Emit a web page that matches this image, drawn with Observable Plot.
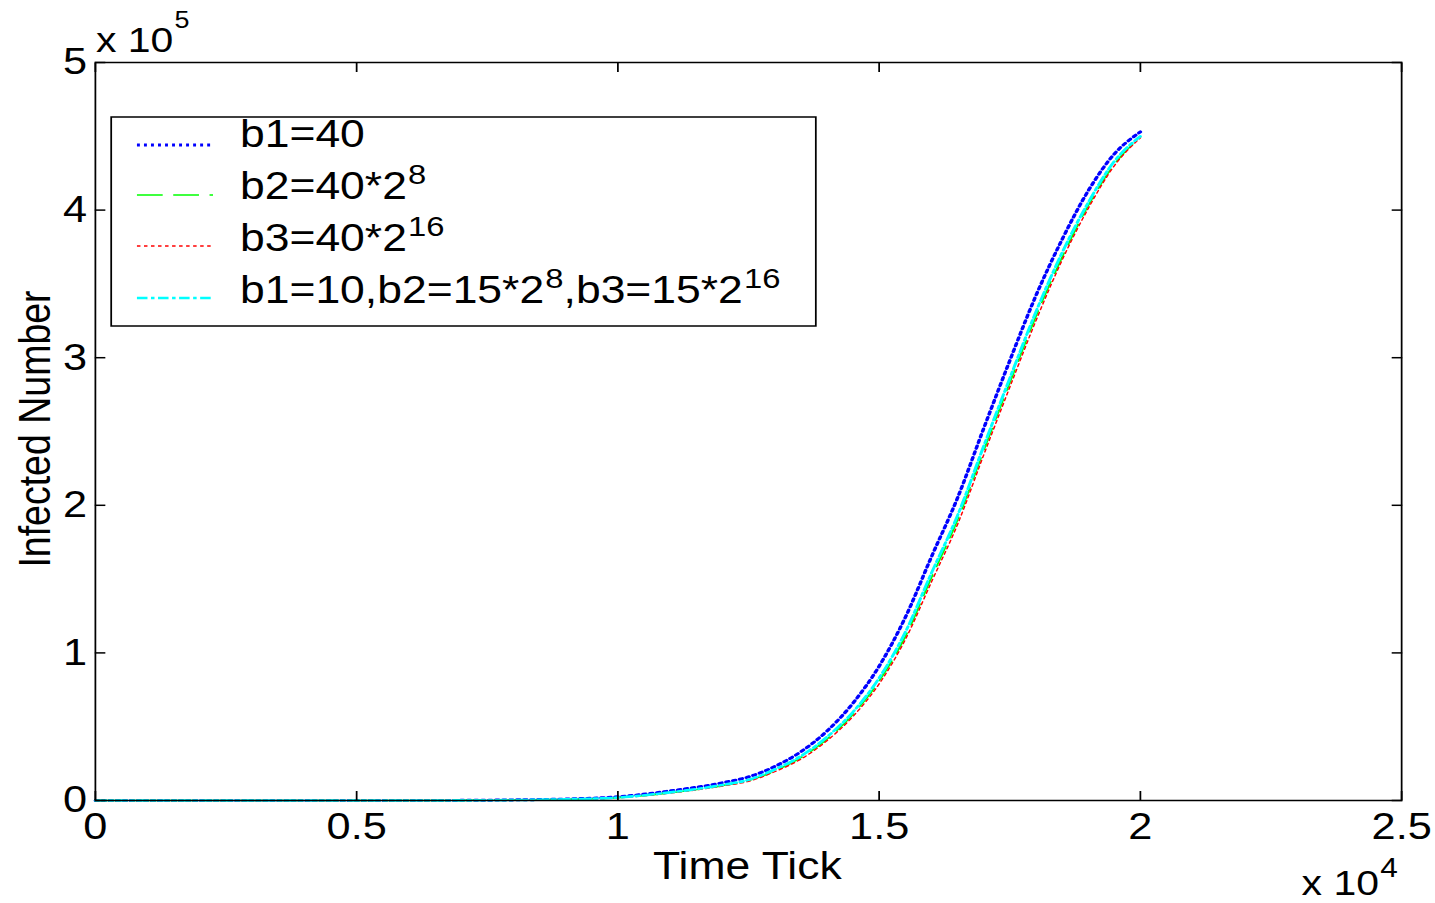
<!DOCTYPE html>
<html>
<head>
<meta charset="utf-8">
<script src="https://cdn.jsdelivr.net/npm/d3@7"></script>
<script src="https://cdn.jsdelivr.net/npm/@observablehq/plot@0.6"></script>
<style>
  html, body { margin: 0; padding: 0; background: #fff; }
  #chart { width: 1435px; height: 903px; overflow: hidden; }
  svg { display: block; }
</style>
</head>
<body>
<div id="chart"></div>
<script>
// ---- data ----
const timeTicks = [0, 2000, 4000, 6000, 8000, 9000, 10000, 11000, 12000, 12500, 13000, 13500, 14000, 14500, 15000, 15500, 16000, 16500, 17000, 17500, 18000, 18500, 19000, 19500, 20000];
const seriesB1 = [0, 0, 0, 0, 400, 1000, 2500, 6500, 12000, 16000, 23000, 33000, 47000, 66000, 91000, 124000, 165000, 205000, 252000, 298000, 342000, 380000, 413000, 438000, 453000];
const seriesB2 = [0, 0, 0, 0, 250, 750, 1900, 5200, 10100, 13500, 20000, 29000, 41500, 58500, 81000, 111000, 151000, 190000, 237000, 283000, 328000, 368000, 403000, 431000, 449500];
const seriesB3 = [0, 0, 0, 0, 200, 700, 1800, 5000, 9800, 13000, 19500, 28000, 40500, 57000, 79000, 109000, 148000, 187000, 234000, 280000, 325000, 366000, 401000, 430000, 449000];
const seriesMix = [0, 0, 0, 0, 300, 800, 2000, 5500, 10500, 14000, 21000, 30000, 43000, 60000, 83000, 114000, 154000, 193000, 240000, 286000, 331000, 371000, 405000, 433000, 450000];

const xTicks = [0, 5000, 10000, 15000, 20000, 25000];
const xTickLabels = ["0", "0.5", "1", "1.5", "2", "2.5"];
const yTicks = [0, 100000, 200000, 300000, 400000, 500000];
const yTickLabels = ["0", "1", "2", "3", "4", "5"];

const seriesNames = ["b1=40", "b2=40*2^8", "b3=40*2^16", "b1=10,b2=15*2^8,b3=15*2^16"];
const seriesColors = ["#0000ff", "#00ff00", "#ff0000", "#00ffff"];

// build a long table
const table = [];
[seriesB1, seriesB2, seriesB3, seriesMix].forEach((vals, s) => {
  vals.forEach((v, i) => table.push({t: timeTicks[i], n: v, s: seriesNames[s]}));
});

// ---- layout (drawn narrower, then stretched horizontally like the reference) ----
const STRETCH = 1.17;
const W = Math.round(1435 / STRETCH);
const H = 903;

const styles = [
  {stroke: seriesColors[0], strokeWidth: 3, strokeDasharray: "2.5,3.5"},
  {stroke: seriesColors[1], strokeWidth: 1.6, strokeDasharray: "22,9"},
  {stroke: seriesColors[2], strokeWidth: 1.3, strokeDasharray: "3,3"},
  {stroke: seriesColors[3], strokeWidth: 2.6, strokeDasharray: "9,3,3,3"}
];

const lineMarks = seriesNames.map((name, k) =>
  Plot.line(table.filter(d => d.s === name), {x: "t", y: "n", curve: "monotone-x", ...styles[k]})
);

const chart = Plot.plot({
  width: W,
  height: H,
  marginLeft: 81,
  marginRight: 29,
  marginTop: 62,
  marginBottom: 103,
  style: {fontFamily: "'Liberation Sans', Arial, sans-serif", background: "#fff", color: "#000"},
  x: {domain: [0, 25000]},
  y: {domain: [0, 500000]},
  marks: [
    ...lineMarks,
    Plot.frame({stroke: "#000", strokeWidth: 1.5}),
    Plot.axisX(xTicks, {anchor: "bottom", tickSize: 0, tickPadding: 12, fontSize: 37, tickFormat: (d, i) => xTickLabels[i], label: null}),
    Plot.axisX(xTicks, {anchor: "bottom", tickSize: -9, tickFormat: () => "", label: null, strokeWidth: 1.5}),
    Plot.axisX(xTicks, {anchor: "top", tickSize: -9, tickFormat: () => "", label: null, strokeWidth: 1.5}),
    Plot.axisY(yTicks, {anchor: "left", tickSize: 0, tickPadding: 7, fontSize: 37, tickFormat: (d, i) => yTickLabels[i], label: null}),
    Plot.axisY(yTicks, {anchor: "left", tickSize: -9, tickFormat: () => "", label: null, strokeWidth: 1.5}),
    Plot.axisY(yTicks, {anchor: "right", tickSize: -9, tickFormat: () => "", label: null, strokeWidth: 1.5})
  ]
});

// stretch horizontally
chart.setAttribute("viewBox", `0 0 ${W} ${H}`);
chart.setAttribute("width", 1435);
chart.setAttribute("height", H);
chart.setAttribute("preserveAspectRatio", "none");
chart.style.width = "1435px";
chart.style.height = H + "px";
chart.style.maxWidth = "none";

const svg = d3.select(chart);
const FF = "'Liberation Sans', Arial, sans-serif";

// axis titles
svg.append("text")
  .attr("x", 638.5).attr("y", 879)
  .attr("text-anchor", "middle").attr("font-size", 38).attr("font-family", FF)
  .attr("fill", "#000").text("Time Tick");

svg.append("text")
  .attr("transform", "translate(43,429) rotate(-90)")
  .attr("text-anchor", "middle").attr("font-size", 37.5).attr("font-family", FF)
  .attr("fill", "#000").text("Infected Number");

// scale multipliers
function multiplier(x, y, base, exp, fs, sfs, rise) {
  const t = svg.append("text").attr("x", x).attr("y", y)
    .attr("text-anchor", "start")
    .attr("font-size", fs).attr("font-family", FF).attr("fill", "#000");
  t.append("tspan").text(base);
  t.append("tspan").attr("dy", -rise).attr("dx", 1).attr("font-size", sfs).text(exp);
}
multiplier(82, 52, "x 10", "5", 35, 23, 24);
multiplier(1112, 895, "x 10", "4", 35, 27, 18);

// legend
const lg = svg.append("g").attr("text-anchor", "start");
lg.append("rect")
  .attr("x", 95).attr("y", 117).attr("width", 602).attr("height", 209)
  .attr("fill", "#fff").attr("stroke", "#000").attr("stroke-width", 1.5);

const lineYs = [145, 195, 246, 298];
const textYs = [147, 199, 251, 303];
styles.forEach((st, k) => {
  lg.append("line")
    .attr("x1", 117).attr("x2", 182).attr("y1", lineYs[k]).attr("y2", lineYs[k])
    .attr("stroke", st.stroke).attr("stroke-width", st.strokeWidth)
    .attr("stroke-dasharray", st.strokeDasharray);
  const t = lg.append("text").attr("x", 205).attr("y", textYs[k])
    .attr("text-anchor", "start")
    .attr("font-size", 38).attr("font-family", FF).attr("fill", "#000");
  // split "a^b" parts into superscripts
  const parts = seriesNames[k].split(/\^(\d+)/);
  parts.forEach((p, j) => {
    if (j % 2 === 0) {
      if (p === "") return;
      const sp = t.append("tspan").text(p);
      if (j > 0) sp.attr("dy", 15);
    } else {
      t.append("tspan").attr("dy", -15).attr("dx", 1).attr("font-size", 28).text(p);
    }
  });
});

document.getElementById("chart").appendChild(chart);
</script>
</body>
</html>
